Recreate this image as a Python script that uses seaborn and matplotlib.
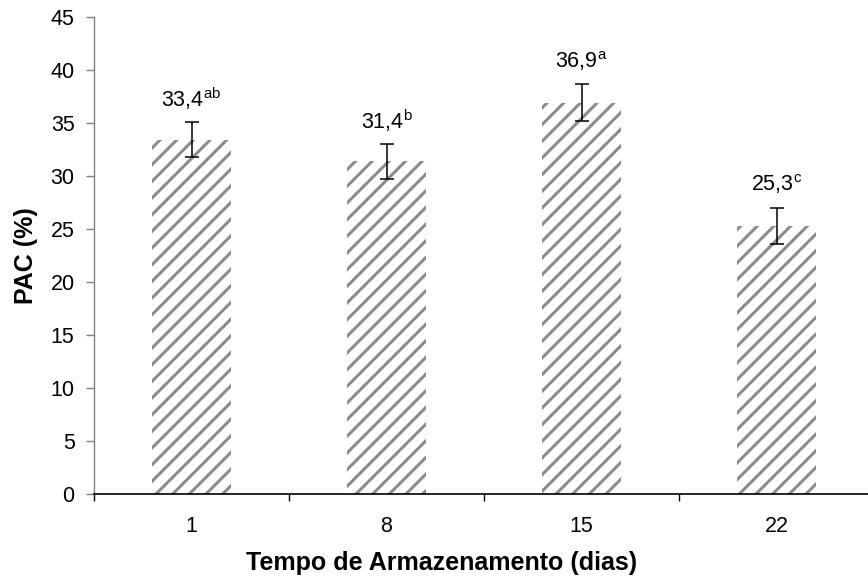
import matplotlib
matplotlib.use("Agg")
import matplotlib.pyplot as plt
import seaborn as sns
import pandas as pd
from matplotlib.ticker import FixedLocator

# Storage time (days) and PAC values with standard error
dias = ["1", "8", "15", "22"]
pac = [33.4, 31.4, 36.9, 25.3]
erro = [1.65, 1.65, 1.75, 1.7]
letras = ["ab", "b", "a", "c"]

sns.set_theme(style="white")
plt.rcParams["font.family"] = ["Liberation Sans", "DejaVu Sans"]
plt.rcParams["mathtext.fontset"] = "custom"
plt.rcParams["mathtext.rm"] = "Liberation Sans"
plt.rcParams["hatch.linewidth"] = 2.2
for k in ["text.color", "axes.labelcolor", "xtick.color", "ytick.color"]:
    plt.rcParams[k] = "black"

df = pd.DataFrame({"dias": dias, "pac": pac})

fig = plt.figure(figsize=(8.68, 5.82), dpi=100)
ax = fig.add_axes([94 / 868, 88 / 582, 780 / 868, 477 / 582])

sns.barplot(data=df, x="dias", y="pac", order=dias, errorbar=None,
            width=0.41, color="white", ax=ax)
for p in ax.patches:
    p.set_facecolor("white")
    p.set_edgecolor("#8c8c8c")
    p.set_linewidth(0)
    p.set_hatch("//")

xpos = list(range(len(dias)))
ax.errorbar(xpos, pac, yerr=erro, fmt="none", ecolor="black",
            elinewidth=1.1, capsize=5, capthick=1.1, zorder=5)

for x, v, e, l in zip(xpos, pac, erro, letras):
    txt = f"{v:.1f}".replace(".", ",") + r"$^{\mathrm{" + l + "}}$"
    ax.text(x, v + e + 2.2, txt, ha="center", va="center", fontsize=15.5)

ax.set_ylim(0, 45)
ax.set_yticks(range(0, 46, 5))
ax.set_xlim(-0.5, 3.5)
ax.xaxis.set_minor_locator(FixedLocator([-0.5, 0.5, 1.5, 2.5, 3.5]))
ax.tick_params(axis="x", which="major", length=0, pad=16, labelsize=15.5,
               labelcolor="black")
ax.tick_params(axis="x", which="minor", length=5, width=1, color="black",
               direction="out", bottom=True)
ax.tick_params(axis="y", length=6, width=1, color="#808080",
               direction="out", left=True, pad=8, labelsize=15.5,
               labelcolor="black")

for s in ["top", "right"]:
    ax.spines[s].set_visible(False)
ax.spines["left"].set_color("#808080")
ax.spines["left"].set_linewidth(1)
ax.spines["bottom"].set_color("black")
ax.spines["bottom"].set_linewidth(1.2)

ax.set_ylabel("PAC (%)", fontsize=18, fontweight="bold", labelpad=9)
ax.set_xlabel("Tempo de Armazenamento (dias)", fontsize=18, fontweight="bold")
ax.xaxis.set_label_coords(0.446, -0.12)

fig.savefig("out.png", dpi=100)
